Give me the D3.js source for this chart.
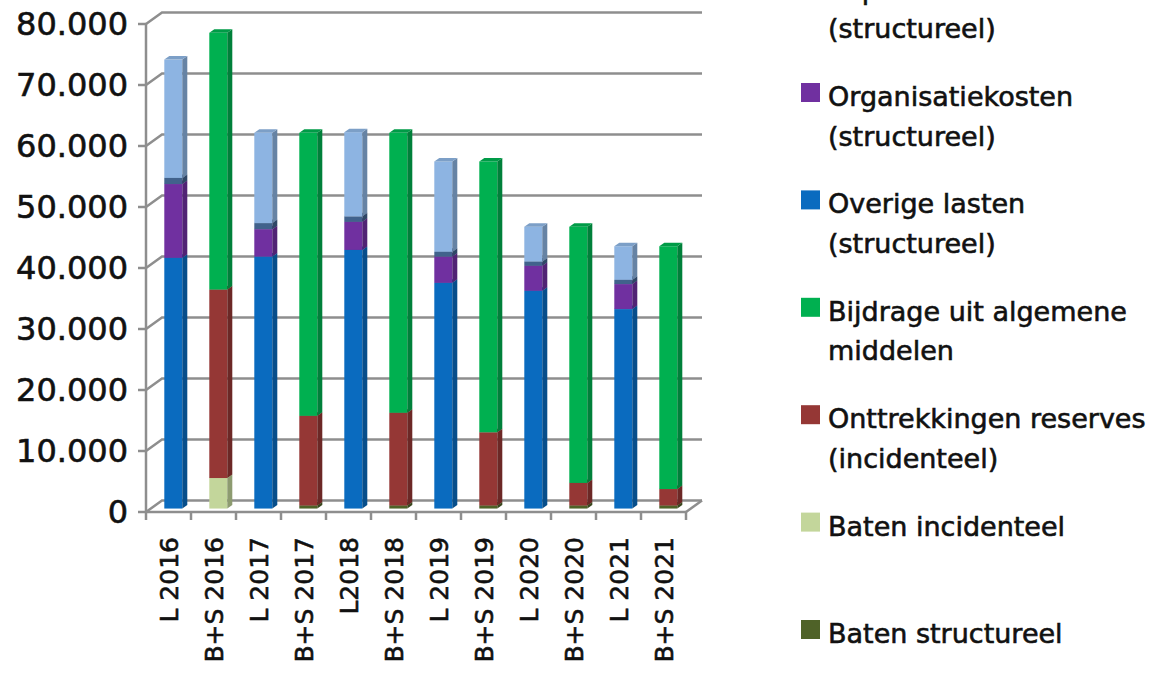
<!DOCTYPE html>
<html>
<head>
<meta charset="utf-8">
<script src="https://cdn.jsdelivr.net/npm/d3@7"></script>
<style>
  body { margin: 0; background: #fff; }
  svg { display: block; font-family: "DejaVu Sans", sans-serif; }
  text { stroke: #111; stroke-width: 0.6px; }
</style>
</head>
<body>
<div id="chart"></div>
<script>
let categories = ["L 2016", "B+S 2016", "L 2017", "B+S 2017", "L2018", "B+S 2018",
                  "L 2019", "B+S 2019", "L 2020", "B+S 2020", "L 2021", "B+S 2021"];

// series from bottom of the stack to the top
let batenStructureel   = [0, 0, 0, 500, 0, 500, 0, 500, 0, 500, 0, 500];
let batenIncidenteel   = [0, 5000, 0, 0, 0, 0, 0, 0, 0, 0, 0, 0];
let onttrekkingen      = [0, 30900, 0, 14700, 0, 15200, 0, 12000, 0, 3700, 0, 2700];
let bijdrage           = [0, 42100, 0, 46400, 0, 45900, 0, 44400, 0, 42000, 0, 39800];
let overigeLasten      = [41100, 0, 41300, 0, 42400, 0, 37000, 0, 35700, 0, 32700, 0];
let organisatiekosten  = [12100, 0, 4500, 0, 4600, 0, 4300, 0, 4100, 0, 4100, 0];
let kapitaallasten     = [1000, 0, 1000, 0, 900, 0, 800, 0, 700, 0, 700, 0];
let lastenIncidenteel  = [19400, 0, 14800, 0, 13800, 0, 14800, 0, 5700, 0, 5500, 0];

let yTicks = [0, 10000, 20000, 30000, 40000, 50000, 60000, 70000, 80000];

let series = [
  { key: "batenStructureel", values: batenStructureel, color: "#4f6228", label: ["Baten structureel"] },
  { key: "batenIncidenteel", values: batenIncidenteel, color: "#c3d69b", label: ["Baten incidenteel"] },
  { key: "onttrekkingen", values: onttrekkingen, color: "#953735", label: ["Onttrekkingen reserves", "(incidenteel)"] },
  { key: "bijdrage", values: bijdrage, color: "#00b050", label: ["Bijdrage uit algemene", "middelen"] },
  { key: "overigeLasten", values: overigeLasten, color: "#0a6bbf", label: ["Overige lasten", "(structureel)"] },
  { key: "organisatiekosten", values: organisatiekosten, color: "#7030a0", label: ["Organisatiekosten", "(structureel)"] },
  { key: "kapitaallasten", values: kapitaallasten, color: "#41628c", label: ["Kapitaallasten", "(structureel)"] },
  { key: "lastenIncidenteel", values: lastenIncidenteel, color: "#8db4e2", label: ["Lasten", "(incidenteel)"] },
];

let width = 1158, height = 675;
let wallDx = 16, wallDy = -11.5;      // depth of the back wall
let barOffX = 4.8, barOffY = -3.45;   // front face of the bars sits a bit inside
let sideDx = 5, sideDy = -3.5;        // depth of a bar

let rows = categories.map((c, i) => {
  let row = { cat: c };
  series.forEach(s => row[s.key] = s.values[i]);
  return row;
});

let stacked = d3.stack().keys(series.map(s => s.key))(rows);

let x = d3.scaleBand()
    .domain(categories)
    .range([146, 686])
    .paddingInner(0.6)
    .paddingOuter(0.3);

let y = d3.scaleLinear()
    .domain([0, 80000])
    .range([512, 24]);

let svg = d3.select("#chart")
    .append("svg")
    .attr("width", width)
    .attr("height", height);

// walls & gridlines
let grid = svg.append("g")
    .attr("fill", "none")
    .attr("stroke", "#8e8e8e")
    .attr("stroke-width", 2.5);

yTicks.forEach(v => {
  let yf = y(v);
  grid.append("polyline")
      .attr("points", [[146, yf], [146 + wallDx, yf + wallDy], [686 + wallDx, yf + wallDy]].join(" "));
});

grid.append("polyline")
    .attr("points", [[686, y(0)], [686 + wallDx, y(0) + wallDy]].join(" "));

grid.append("line")
    .attr("x1", 146).attr("x2", 686)
    .attr("y1", y(0)).attr("y2", y(0));

grid.append("line")
    .attr("x1", 146).attr("x2", 146)
    .attr("y1", y(80000)).attr("y2", y(0));

yTicks.forEach(v => {
  grid.append("line")
      .attr("x1", 138).attr("x2", 146)
      .attr("y1", y(v)).attr("y2", y(v));
});

d3.range(categories.length + 1).forEach(i => {
  let xx = 146 + i * x.step();
  grid.append("line")
      .attr("x1", xx).attr("x2", xx)
      .attr("y1", y(0)).attr("y2", y(0) + 8);
});

// bars, drawn from the bottom segment up so each one hides the top face below it
let bars = svg.append("g");

categories.forEach((c, i) => {
  stacked.forEach((layer, si) => {
    let d = layer[i];
    if (d[1] - d[0] <= 0) return;
    let col = d3.color(series[si].color);
    let x0 = x(c) + barOffX, x1 = x0 + x.bandwidth();
    let yb = y(d[0]) + barOffY, yt = y(d[1]) + barOffY;
    let g = bars.append("g");

    g.append("rect")
        .attr("x", x0).attr("y", yt)
        .attr("width", x1 - x0).attr("height", yb - yt)
        .attr("fill", col);

    g.append("polygon")
        .attr("points", [[x1, yb], [x1 + sideDx, yb + sideDy], [x1 + sideDx, yt + sideDy], [x1, yt]].join(" "))
        .attr("fill", col.darker(0.9));

    g.append("polygon")
        .attr("points", [[x0, yt], [x0 + sideDx, yt + sideDy], [x1 + sideDx, yt + sideDy], [x1, yt]].join(" "))
        .attr("fill", col.darker(0.35));
  });
});

// y axis labels
svg.append("g")
    .selectAll("text")
    .data(yTicks)
    .enter().append("text")
    .attr("x", 128)
    .attr("y", d => y(d) + 11)
    .attr("text-anchor", "end")
    .attr("font-size", 32)
    .attr("fill", "#111")
    .text(d => d === 0 ? "0" : d3.format(",")(d).replace(/,/g, "."));

// category labels, rotated
svg.append("g")
    .selectAll("text")
    .data(categories)
    .enter().append("text")
    .attr("transform", d => `translate(${x(d) + x.bandwidth() / 2 + 9},537) rotate(-90)`)
    .attr("text-anchor", "end")
    .attr("font-size", 25)
    .attr("fill", "#111")
    .text(d => d);

// legend, top series first; the top of it falls outside the picture
let legendStep = 107.4;
let legend = svg.append("g")
    .attr("font-size", 27)
    .attr("fill", "#111");

series.slice().reverse().forEach((s, i) => {
  let base = -108.8 + i * legendStep;
  legend.append("rect")
      .attr("x", 801).attr("y", base - 23)
      .attr("width", 19).attr("height", 19)
      .attr("fill", s.color);
  s.label.forEach((t, j) => {
    legend.append("text")
        .attr("x", 828)
        .attr("y", base + j * 39.5)
        .text(t);
  });
});
</script>
</body>
</html>
